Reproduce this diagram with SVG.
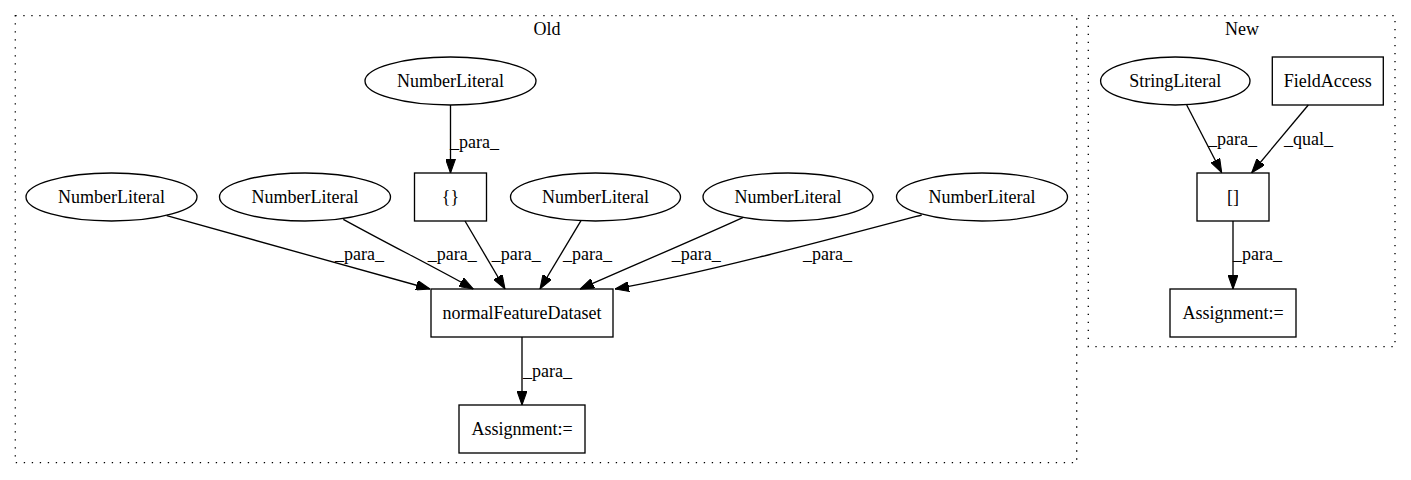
<svg xmlns="http://www.w3.org/2000/svg" width="1411" height="480" viewBox="0 0 1411 480">
<style>
  .bg { fill: #ffffff; }
  .cluster { fill: none; stroke: #000000; stroke-width: 1.33; stroke-dasharray: 1.33 6.67; }
  .node { fill: none; stroke: #000000; stroke-width: 1.33; }
  .edge { fill: none; stroke: #000000; stroke-width: 1.33; }
  text { font-family: "Liberation Serif", "Times New Roman", serif; font-size: 18px; fill: #000000; }
  .c { text-anchor: middle; }
</style>
<defs>
  <marker id="arrow" markerUnits="userSpaceOnUse" markerWidth="14" markerHeight="10" viewBox="0 0 13.3 9.4" refX="13.3" refY="4.7" orient="auto">
    <path d="M0,0 L13.3,4.7 L0,9.4 z" fill="#000000" stroke="#000000" stroke-width="1"/>
  </marker>
</defs>
<rect class="bg" x="0" y="0" width="1411" height="480"/>

<g id="cluster_old">
  <rect class="cluster" x="15.3" y="15.7" width="1061.4" height="447"/>
  <text class="c" x="547" y="35">Old</text>
</g>
<g id="cluster_new">
  <rect class="cluster" x="1088.3" y="15.7" width="306.7" height="331"/>
  <text class="c" x="1242" y="35">New</text>
</g>

<g id="edges">
  <path class="edge" d="M450.5,105 L450.5,173" marker-end="url(#arrow)"/>
  <text x="450" y="148">_para_</text>

  <path class="edge" d="M166.7,215.7 L430,289" marker-end="url(#arrow)"/>
  <text x="335" y="260">_para_</text>

  <path class="edge" d="M343.3,219.3 C390,245 440,270 473.3,289" marker-end="url(#arrow)"/>
  <text x="427.7" y="260">_para_</text>

  <path class="edge" d="M465,221 L505,289" marker-end="url(#arrow)"/>
  <text x="491.7" y="260">_para_</text>

  <path class="edge" d="M581,220.7 L540,289" marker-end="url(#arrow)"/>
  <text x="563" y="260">_para_</text>

  <path class="edge" d="M743.3,217.3 C700,237 630,267 580,289" marker-end="url(#arrow)"/>
  <text x="671.7" y="260">_para_</text>

  <path class="edge" d="M921.7,215 C820,242 700,274 615,289" marker-end="url(#arrow)"/>
  <text x="803" y="260">_para_</text>

  <path class="edge" d="M522,337 L522,405" marker-end="url(#arrow)"/>
  <text x="523" y="376.7">_para_</text>

  <path class="edge" d="M1186.7,105 L1221.7,172.7" marker-end="url(#arrow)"/>
  <text x="1208" y="145">_para_</text>

  <path class="edge" d="M1308.3,105 L1251.7,172.7" marker-end="url(#arrow)"/>
  <text x="1284" y="145">_qual_</text>

  <path class="edge" d="M1233,221 L1233,289" marker-end="url(#arrow)"/>
  <text x="1233" y="260">_para_</text>
</g>

<g id="n_nl_top">
  <ellipse class="node" cx="450.5" cy="81" rx="85.5" ry="24"/>
  <text class="c" x="450.5" y="87">NumberLiteral</text>
</g>
<g id="n_braces">
  <rect class="node" x="414.5" y="173" width="72" height="48"/>
  <text class="c" x="450.5" y="203">{}</text>
</g>
<g id="n_nl1">
  <ellipse class="node" cx="111.5" cy="197" rx="85.5" ry="24"/>
  <text class="c" x="111.5" y="203">NumberLiteral</text>
</g>
<g id="n_nl2">
  <ellipse class="node" cx="305" cy="197" rx="85.5" ry="24"/>
  <text class="c" x="305" y="203">NumberLiteral</text>
</g>
<g id="n_nl3">
  <ellipse class="node" cx="595.5" cy="197" rx="85" ry="24"/>
  <text class="c" x="595.5" y="203">NumberLiteral</text>
</g>
<g id="n_nl4">
  <ellipse class="node" cx="788" cy="197" rx="85" ry="24"/>
  <text class="c" x="788" y="203">NumberLiteral</text>
</g>
<g id="n_nl5">
  <ellipse class="node" cx="982" cy="197" rx="85.5" ry="24"/>
  <text class="c" x="982" y="203">NumberLiteral</text>
</g>
<g id="n_nfd">
  <rect class="node" x="431" y="289" width="182" height="48"/>
  <text class="c" x="522" y="319">normalFeatureDataset</text>
</g>
<g id="n_assign_old">
  <rect class="node" x="459" y="405" width="126" height="48"/>
  <text class="c" x="522" y="435">Assignment:=</text>
</g>

<g id="n_string">
  <ellipse class="node" cx="1175.3" cy="81" rx="74.7" ry="24"/>
  <text class="c" x="1175.3" y="87">StringLiteral</text>
</g>
<g id="n_field">
  <rect class="node" x="1272.3" y="57" width="111" height="48"/>
  <text class="c" x="1327.8" y="87">FieldAccess</text>
</g>
<g id="n_index">
  <rect class="node" x="1197" y="173" width="72" height="48"/>
  <text class="c" x="1233" y="203">[]</text>
</g>
<g id="n_assign_new">
  <rect class="node" x="1170" y="289" width="126" height="48"/>
  <text class="c" x="1233" y="319">Assignment:=</text>
</g>
</svg>
